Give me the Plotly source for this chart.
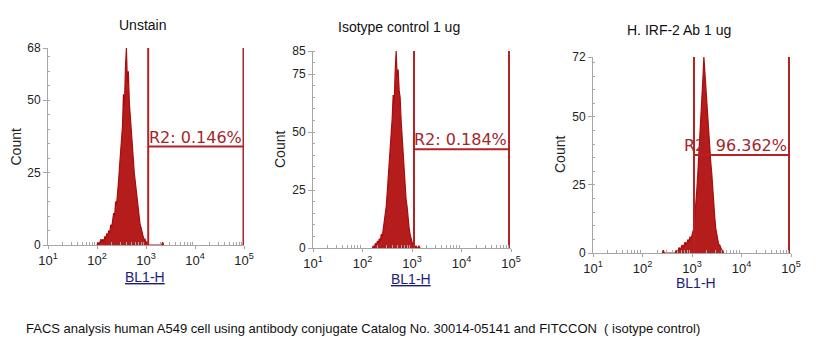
import plotly.graph_objects as go

# ---------------- data ----------------
titles = ["Unstain", "Isotype control 1 ug", "H. IRF-2 Ab 1 ug"]
caption = "FACS analysis human A549 cell using antibody conjugate Catalog No. 30014-05141 and FITCCON  ( isotype control)"
gate_labels = ["R2: 0.146%", "R2: 0.184%", "R2: 96.362%"]

# log10(BL1-H) channel positions and counts
p1_log = [2.00, 2.02, 2.04, 2.06, 2.08, 2.10, 2.12, 2.14, 2.16, 2.18, 2.20, 2.22, 2.24, 2.26, 2.28,
          2.30, 2.32, 2.34, 2.36, 2.38, 2.40, 2.42, 2.44, 2.46, 2.48, 2.50, 2.52, 2.54, 2.56, 2.58,
          2.60, 2.62, 2.64, 2.66, 2.68, 2.70, 2.72, 2.74, 2.76, 2.78, 2.80, 2.82, 2.84, 2.86, 2.88,
          2.90, 2.92, 2.94, 2.96, 2.98, 3.00, 3.02, 3.04, 3.06, 3.32, 3.34, 3.36]
p1_cnt = [0, 1, 0, 1, 2, 1, 2, 1, 3, 2, 4, 3, 5, 4, 7,
          6, 9, 11, 10, 15, 14, 20, 22, 27, 31, 36, 41, 52, 48, 61,
          68, 56, 60, 49, 45, 40, 36, 30, 25, 22, 18, 16, 12, 10, 7,
          6, 4, 3, 2, 2, 1, 1, 0, 0, 0, 1, 0]

p2_log = [2.20, 2.22, 2.24, 2.26, 2.28, 2.30, 2.32, 2.34, 2.36, 2.38, 2.40, 2.42, 2.44, 2.46, 2.48,
          2.50, 2.52, 2.54, 2.56, 2.58, 2.60, 2.62, 2.64, 2.66, 2.68, 2.70, 2.72, 2.74, 2.76, 2.78,
          2.80, 2.82, 2.84, 2.86, 2.88, 2.90, 2.92, 2.94, 2.96, 2.98, 3.00, 3.02, 3.04, 3.06, 3.08,
          3.10, 3.12, 3.14, 3.16]
p2_cnt = [0, 1, 0, 2, 1, 3, 2, 4, 3, 6, 5, 8, 10, 13, 18,
          24, 30, 36, 44, 50, 56, 66, 62, 76, 85, 74, 77, 68, 65, 55,
          47, 40, 33, 27, 21, 18, 12, 9, 6, 4, 2, 1, 1, 0, 1,
          0, 0, 1, 0]

p3_log = [2.40, 2.42, 2.44, 2.66, 2.68, 2.70, 2.72, 2.74, 2.76, 2.78, 2.80, 2.82, 2.84, 2.86, 2.88,
          2.90, 2.92, 2.94, 2.96, 2.98, 3.00, 3.02, 3.04, 3.06, 3.08, 3.10, 3.12, 3.14, 3.16, 3.18,
          3.20, 3.22, 3.24, 3.26, 3.28, 3.30, 3.32, 3.34, 3.36, 3.38, 3.40, 3.42, 3.44, 3.46, 3.48,
          3.50, 3.52, 3.54, 3.56, 3.58, 3.60, 3.62, 3.64]
p3_cnt = [0, 1, 0, 0, 1, 0, 1, 2, 1, 2, 3, 2, 3, 4, 3,
          4, 5, 4, 6, 5, 7, 8, 9, 13, 18, 24, 30, 36, 44, 52,
          57, 64, 72, 66, 63, 56, 52, 45, 38, 33, 29, 22, 17, 13, 9,
          7, 5, 3, 3, 2, 1, 1, 0]

y_max = [68, 85, 72]
y_ticks = [[0, 25, 50, 68], [0, 25, 50, 75, 85], [0, 25, 50, 72]]
x_tick_exp = [1, 2, 3, 4, 5]
gate_lo = [3.045, 3.04, 3.04]   # log10 position of left gate bound
gate_hi = [4.99, 4.96, 4.96]    # log10 position of right gate bound
gate_y = [34, 42.6, 36]         # height of the gate bar

# ---------------- layout geometry ----------------
# the page body has an 8px margin, so the figure is drawn 8px in from the window corner
OFF = 8
W, H = 819 - OFF, 360 - OFF
dom_x = [(48, 244), (313, 511), (593, 791)]
dom_y = [(48, 245), (51, 248), (57, 253)]   # top, bottom pixel (window coords)
title_pos = [(142, 25), (399, 27), (679, 30)]
count_pos = [(15.5, 147), (280, 150), (560, 155)]
xlab_pos = [(145, 277), (411, 279), (696, 283)]


def px(x):
    return (x - OFF) / W


def py(y):
    return 1 - (y - OFF) / H


RED = "#a80c0c"
GATE = "#b52222"
TXT_RED = "#a3262b"
AXIS = "#a6a6a6"
FONT = "Liberation Sans, Arial, sans-serif"

series = [(p1_log, p1_cnt), (p2_log, p2_cnt), (p3_log, p3_cnt)]

fig = go.Figure()
annotations = []
minor_vals = [m * 10 ** e for e in range(1, 5) for m in range(2, 10)]

for i in range(3):
    xa = "x" if i == 0 else f"x{i+1}"
    ya = "y" if i == 0 else f"y{i+1}"
    logs, cnts = series[i]
    xs = [10 ** v for v in logs]
    fig.add_trace(go.Scatter(x=xs, y=cnts, mode="lines", xaxis=xa, yaxis=ya,
                             line=dict(color=RED, width=1.2, shape="linear"),
                             fill="tozeroy", fillcolor="rgba(175,10,10,0.92)",
                             showlegend=False, hoverinfo="skip"))
    # gate lines
    glo, ghi = 10 ** gate_lo[i], 10 ** gate_hi[i]
    fig.add_trace(go.Scatter(x=[glo, glo], y=[0, y_max[i]], mode="lines", xaxis=xa, yaxis=ya,
                             line=dict(color=GATE, width=2), showlegend=False, hoverinfo="skip"))
    fig.add_trace(go.Scatter(x=[ghi, ghi], y=[0, y_max[i]], mode="lines", xaxis=xa, yaxis=ya,
                             line=dict(color=GATE, width=2), showlegend=False, hoverinfo="skip"))
    fig.add_trace(go.Scatter(x=[glo, ghi], y=[gate_y[i], gate_y[i]], mode="lines", xaxis=xa, yaxis=ya,
                             line=dict(color=GATE, width=2), showlegend=False, hoverinfo="skip"))

    x0, x1 = dom_x[i]
    yt, yb = dom_y[i]
    axkey = "xaxis" if i == 0 else f"xaxis{i+1}"
    aykey = "yaxis" if i == 0 else f"yaxis{i+1}"
    fig.layout[axkey] = dict(
        type="log", range=[1, 5], domain=[px(x0), px(x1)], anchor=ya,
        tickvals=[10 ** e for e in x_tick_exp],
        ticktext=[f"10<sup>{e}</sup>" for e in x_tick_exp],
        showline=True, linecolor=AXIS, linewidth=1, showgrid=False, zeroline=False,
        ticks="outside", ticklen=3, tickcolor=AXIS, automargin=False,
        minor=dict(tickvals=minor_vals, ticks="inside", ticklen=3, tickcolor=AXIS, showgrid=False),
        tickfont=dict(family=FONT, size=13, color="#222"),
    )
    fig.layout[aykey] = dict(
        range=[0, y_max[i]], domain=[py(yb), py(yt)], anchor=xa,
        tickvals=y_ticks[i], showline=True, linecolor=AXIS, linewidth=1, automargin=False,
        showgrid=False, zeroline=False, ticks="outside", ticklen=4, tickcolor=AXIS,
        minor=dict(dtick=5, ticks="inside", ticklen=2, tickcolor=AXIS, showgrid=False),
        tickfont=dict(family=FONT, size=12, color="#222"),
    )
    # gate label
    annotations.append(dict(x=gate_hi[i], y=gate_y[i], xref=xa, yref=ya, text=gate_labels[i],
                            showarrow=False, xanchor="right", yanchor="bottom", yshift=-2,
                            font=dict(family="DejaVu Sans", size=16, color=TXT_RED)))
    # panel title
    tx, ty = title_pos[i]
    annotations.append(dict(x=px(tx), y=py(ty), xref="paper", yref="paper", text=titles[i],
                            showarrow=False, xanchor="center", yanchor="middle",
                            font=dict(family=FONT, size=14, color="#111")))
    # axis titles
    cx, cy = count_pos[i]
    annotations.append(dict(x=px(cx), y=py(cy), xref="paper", yref="paper", text="Count",
                            showarrow=False, xanchor="center", yanchor="middle", textangle=-90,
                            font=dict(family=FONT, size=14, color="#222")))
    lx, ly = xlab_pos[i]
    annotations.append(dict(x=px(lx), y=py(ly), xref="paper", yref="paper", text="BL1-H",
                            showarrow=False, xanchor="center", yanchor="middle",
                            font=dict(family=FONT, size=14, color="#1c1c7c",
                                      lineposition=("under" if i < 2 else "none"))))

annotations.append(dict(x=px(24), y=py(328), xref="paper", yref="paper", text=caption,
                        showarrow=False, xanchor="left", yanchor="middle",
                        font=dict(family=FONT, size=13, color="#111")))

fig.update_layout(width=W, height=H, margin=dict(l=0, r=0, t=0, b=0, autoexpand=False),
                  paper_bgcolor="white", plot_bgcolor="white",
                  annotations=annotations, showlegend=False)

fig.write_html("out.html")
